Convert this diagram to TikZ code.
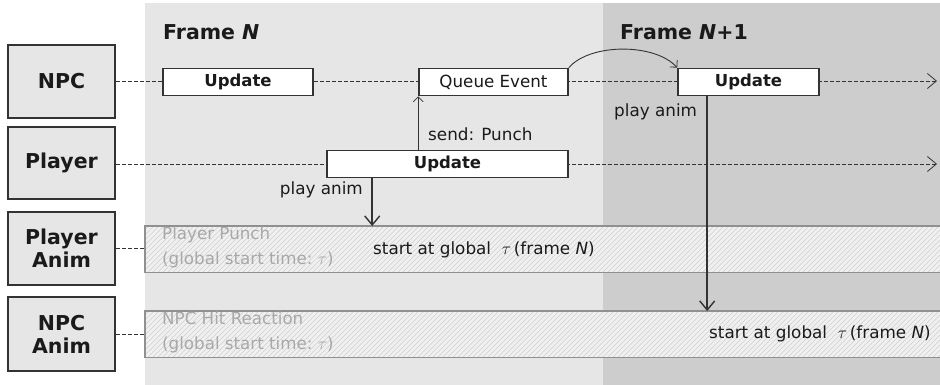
\documentclass[tikz,border=0pt]{standalone}
\usepackage{fontspec}
\setmainfont{DejaVu Sans}
\usetikzlibrary{arrows.meta}
\definecolor{bgA}{HTML}{E6E6E6}
\definecolor{bgB}{HTML}{CDCDCD}
\definecolor{ink}{HTML}{1A1A1A}
\definecolor{boxline}{HTML}{333333}
\definecolor{ghost}{HTML}{A8A8A8}
\definecolor{barline}{HTML}{909090}
\definecolor{hatchc}{HTML}{D0D0D0}
\definecolor{barfill}{HTML}{F0F0F0}
\newcommand{\tauglyph}{$\tau$}
\begin{document}
\begin{tikzpicture}[x=1pt,y=-1pt,
  lane/.style={draw=boxline, line width=1.6pt, fill=bgA, minimum width=107pt, align=center,
    font=\fontsize{20.5}{23}\selectfont\bfseries, text=ink, inner sep=0pt},
  evbox/.style={draw=boxline, line width=1.6pt, fill=white, minimum height=27pt, inner sep=0pt,
    font=\fontsize{16.7}{18}\selectfont, text=ink},
  bold/.style={font=\fontsize{16.5}{18}\selectfont\bfseries},
  bar/.style={draw=barline, line width=1.5pt, inner sep=0pt},
  txt/.style={font=\fontsize{16.8}{18}\selectfont, text=ink, inner sep=0pt},
  gtxt/.style={font=\fontsize{16.7}{25}\selectfont, text=ghost, inner sep=0pt, align=left},
  title/.style={font=\fontsize{20.5}{23}\selectfont\bfseries, text=ink, inner sep=0pt},
  timeline/.style={draw=boxline, line width=0.8pt, dash pattern=on 4pt off 2pt,
    -{Straight Barb[length=9pt,width=15pt,line width=0.8pt]}},
  link/.style={draw=boxline, line width=0.8pt, dash pattern=on 4pt off 2pt},
  thinarrow/.style={draw=boxline, line width=0.9pt, -{Straight Barb[length=5pt,width=10pt,line width=0.8pt]}},
  playarrow/.style={draw=boxline, line width=1.6pt, -{Straight Barb[length=9pt,width=15pt,line width=1.4pt]}}
]
\useasboundingbox (0,0) rectangle (940,384);
% background columns
\fill[bgA] (145,3) rectangle (603,390);
\fill[bgB] (603,3) rectangle (945,390);

% frame titles
\node[title, anchor=west] (fN) at (163,32) {Frame \textit{N}};
\node[title, anchor=west] (fN1) at (620,32) {Frame \textit{N}+1};

% lane boxes
\node[lane, minimum height=73pt] (npc) at (61.5,81.5) {NPC};
\node[lane, minimum height=72pt] (player) at (61.5,163) {Player};
\node[lane, minimum height=73pt] (panim) at (61.5,248.5) {Player\\Anim};
\node[lane, minimum height=74pt] (nanim) at (61.5,334) {NPC\\Anim};

% animation bars
\node[bar, minimum width=800pt, minimum height=45pt, anchor=north west] (pp) at (145,226) {};
\node[bar, minimum width=800pt, minimum height=45pt, anchor=north west] (nh) at (145,311) {};
\foreach \b in {pp,nh}{
  \fill[barfill] (\b.north west) rectangle (\b.south east);
  \begin{scope}
    \clip (\b.north west) rectangle (\b.south east);
    \foreach \i in {-60,-55,...,960}
      \draw[hatchc, line width=0.6pt] (\i,400) -- ++(400,-400);
  \end{scope}
  \draw[barline, line width=1.5pt] (\b.north east) -- (\b.north west) -- (\b.south west) -- (\b.south east);
}

% timeline end points
\coordinate (npcend) at (937,81);
\coordinate (plend) at (937,164);
\draw[timeline] (npc.east |- 0,81) -- (npcend);
\draw[timeline] (player.east |- 0,164) -- (plend);
\draw[link] (panim.east |- 0,248) -- (pp.west |- 0,248);
\draw[link] (nanim.east |- 0,334) -- (nh.west |- 0,334);

% event boxes
\node[evbox, bold, minimum width=150pt] (u1) at (238,82) {Update};
\node[evbox, minimum width=149pt] (qe) at (493.5,82) {Queue Event};
\node[evbox, bold, minimum width=141pt] (u2) at (748.5,82) {Update};
\node[evbox, bold, minimum width=241pt] (pu) at (447.5,164) {Update};

% send arrow
\draw[thinarrow] (qe.south west |- pu.north) -- (qe.south west);
\node[txt, anchor=west] (send) at (428,134) {send: Punch};

% queued curve
\draw[thinarrow] (qe.north east) .. controls (590,43) and (655,43) .. (u2.north west);

% play anim arrows
\coordinate (pax) at ([xshift=46pt]pu.south west);
\draw[playarrow] (pax) -- (pax |- pp.north);
\node[txt, anchor=east] (pal) at (363,190) {play anim};
\coordinate (nax) at ([xshift=30pt]u2.south west);
\draw[playarrow] (nax) -- (nax |- nh.north);
\node[txt, anchor=west] (nal) at (614,112) {play anim};

% bar texts
\node[gtxt, anchor=north west] (ppt) at (162,227) {Player Punch\\(global start time:\ \tauglyph)};
\node[gtxt, anchor=north west] (nht) at (162,312) {NPC Hit Reaction\\(global start time:\ \tauglyph)};
\node[txt, anchor=west] (pps) at (373,250) {start at global \ \tauglyph\,(frame \textit{N})};
\node[txt, anchor=west] (nhs) at (709,334) {start at global \ \tauglyph\,(frame \textit{N})};
\end{tikzpicture}
\end{document}
